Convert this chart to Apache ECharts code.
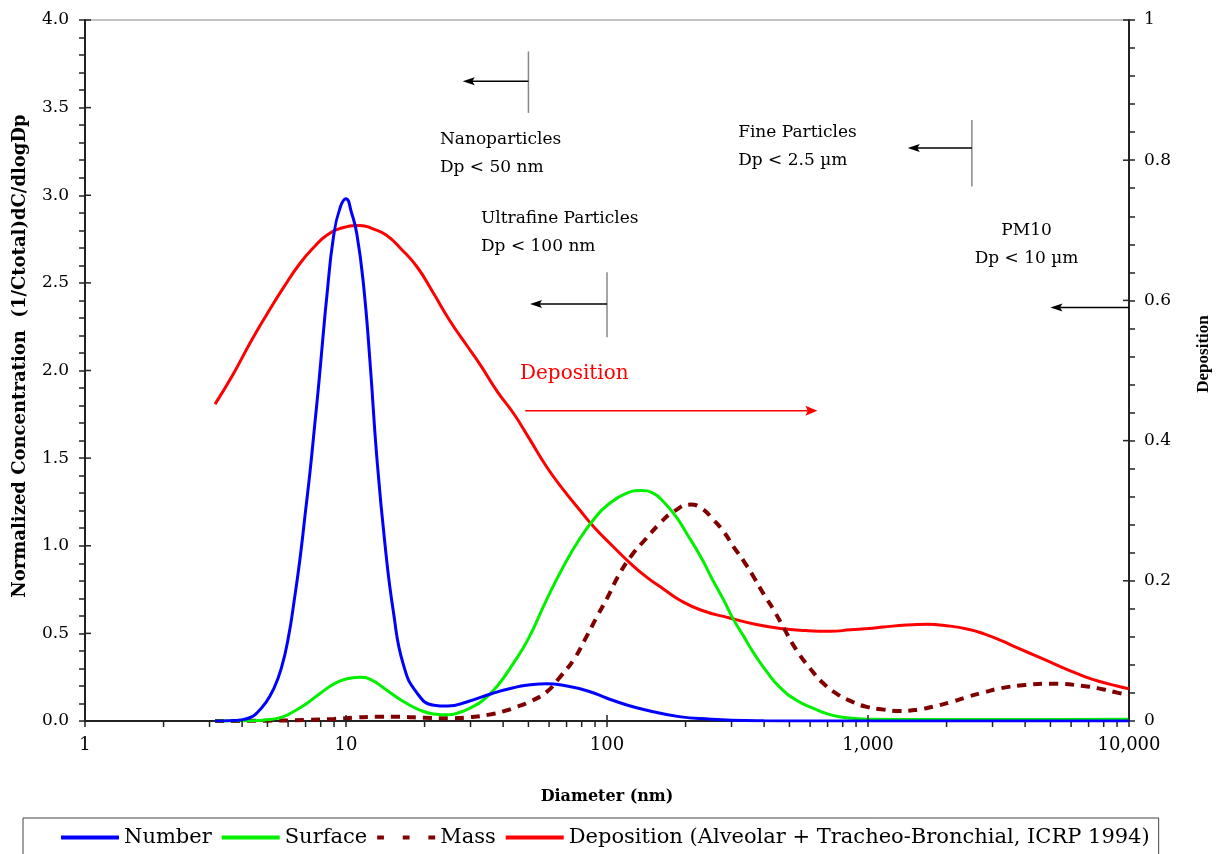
<!DOCTYPE html>
<html><head><meta charset="utf-8">
<script src="https://cdn.jsdelivr.net/npm/echarts@6/dist/echarts.min.js"></script>
<style>html,body{margin:0;padding:0;background:#fff}#c{width:1223px;height:854px}</style>
</head><body><div id="c"></div><script>
// ---------- DATA ----------
const xMajorTicks = [1, 10, 100, 1000, 10000];
const xMinorTicks = [2,3,4,5,6,7,8,9,20,30,40,50,60,70,80,90,200,300,400,500,600,700,800,900,2000,3000,4000,5000,6000,7000,8000,9000];
const leftMajorTicks = [0,0.5,1,1.5,2,2.5,3,3.5,4];
const rightMajorTicks = [0,0.2,0.4,0.6,0.8,1];

// [diameter nm, normalized concentration]
const numberData = [[3.15,0],[3.6,0.002],[3.93,0.006],[4.3,0.02],[4.55,0.045],[4.9,0.1],[5.27,0.18],[5.65,0.3],[6.02,0.48],[6.35,0.7],[6.67,0.93],[7.0,1.2],[7.29,1.43],[7.6,1.7],[7.86,1.92],[8.15,2.18],[8.44,2.42],[8.95,2.76],[9.5,2.93],[10.0,2.98],[10.5,2.9],[11.0,2.78],[11.67,2.49],[12.4,2.02],[13.1,1.52],[14.1,1.01],[15.2,0.62],[16.6,0.32],[18.7,0.16],[21.7,0.09],[24.5,0.085],[29.2,0.11],[36.8,0.16],[43.8,0.19],[50,0.205],[58.6,0.213],[70,0.2],[85,0.17],[100,0.13],[120,0.09],[141,0.063],[189,0.025],[250,0.01],[300,0.004],[400,0.001],[600,0],[1000,0],[3000,0],[10000,0]];
const surfaceData = [[3.15,0],[4.5,0.002],[5.2,0.01],[5.76,0.025],[6.4,0.06],[7.07,0.1],[8,0.16],[8.95,0.21],[10,0.24],[11.3,0.25],[12.5,0.235],[13.9,0.19],[15.5,0.14],[17.1,0.1],[19,0.065],[21.7,0.04],[24.5,0.035],[27.4,0.05],[30,0.075],[33.6,0.12],[38,0.2],[43.8,0.33],[50,0.47],[58.6,0.69],[68,0.88],[78.6,1.04],[90,1.16],[100,1.23],[119,1.3],[135,1.315],[150,1.3],[165,1.25],[185,1.16],[202,1.07],[230,0.93],[255,0.8],[280,0.69],[305,0.58],[335,0.48],[364,0.39],[410,0.28],[461,0.19],[530,0.12],[622,0.07],[720,0.035],[830,0.018],[1000,0.01],[2000,0.008],[5000,0.008],[10000,0.01]];
const massData = [[3.15,0],[5,0.002],[7,0.006],[9,0.012],[11,0.02],[13,0.024],[16,0.024],[20,0.018],[25,0.015],[30,0.022],[35,0.035],[40,0.055],[45,0.08],[50.6,0.11],[58.6,0.165],[66,0.25],[74.4,0.348],[82,0.46],[91.5,0.595],[100,0.7],[112,0.843],[125,0.95],[141,1.04],[160,1.13],[180,1.195],[209,1.235],[230,1.215],[255,1.15],[280,1.08],[305,0.995],[335,0.91],[364,0.824],[400,0.72],[435,0.634],[480,0.52],[532,0.405],[600,0.3],[674,0.215],[760,0.155],[855,0.115],[981,0.082],[1150,0.065],[1320,0.057],[1550,0.065],[1777,0.082],[2100,0.11],[2421,0.139],[2800,0.165],[3225,0.187],[4000,0.205],[5000,0.213],[6700,0.2],[8000,0.18],[9000,0.162],[10000,0.15]];
// [diameter nm, deposition fraction] (right axis)
const depositionData = [[3.15,0.452],[3.7,0.495],[4.3,0.54],[4.97,0.58],[5.8,0.62],[6.67,0.653],[7.5,0.675],[8.44,0.693],[9.8,0.704],[11.3,0.707],[12.7,0.702],[14.3,0.693],[16.3,0.673],[18.7,0.648],[21.5,0.612],[25,0.571],[29,0.536],[32.7,0.508],[38,0.47],[43.8,0.439],[50,0.405],[58.6,0.363],[68,0.33],[78.6,0.301],[90,0.275],[105.5,0.249],[122,0.226],[141,0.206],[165,0.188],[189,0.173],[230,0.158],[295,0.147],[370,0.138],[461,0.132],[580,0.129],[717,0.128],[855,0.13],[1000,0.132],[1143,0.134],[1400,0.137],[1688,0.138],[2000,0.136],[2421,0.131],[2800,0.124],[3225,0.115],[3700,0.105],[4335,0.094],[5000,0.084],[5833,0.073],[6800,0.063],[7790,0.056],[9000,0.05],[10000,0.046]];

const seriesNames = ['Number','Surface','Mass','Deposition (Alveolar + Tracheo-Bronchial, ICRP 1994)'];

// annotations (data coordinates: diameter, left-axis value)
const boundaryLines = [[50,3.47,3.82],[100,2.19,2.56],[2500,3.05,3.43]];
const sizeArrows = [[50,28,3.65],[100,50.7,2.38],[2500,1420,3.27],[10000,5000,2.36]];
const depositionArrow = [48.6, 640, 1.77];
const labels = [
  {text:'Nanoparticles\nDp < 50 nm', at:[22.9,3.40], align:'left'},
  {text:'Ultrafine Particles\nDp < 100 nm', at:[32.9,2.945], align:'left'},
  {text:'Fine Particles\nDp < 2.5 µm', at:[318,3.436], align:'left'},
  {text:'PM10\nDp < 10 µm', at:[4050,2.877], align:'center'}
];
const depositionLabel = {text:'Deposition', at:[46.4,2.04]};

// ---------- CHART ----------
const FONT = 'DejaVu Serif';
const AX = '#222';
const COLORS = {number:'#0000ff', surface:'#00f000', mass:'#800000', deposition:'#ff0000'};
const chart = echarts.init(document.getElementById('c'), null, {renderer:'canvas'});

function tickSeries(values, yIdx, kind) {
  return {
    type:'custom', xAxisIndex:0, yAxisIndex:yIdx, silent:true, clip:false, z:5,
    data: values.map(v => kind === 'x' || kind === 'xminor' ? [v, 0] : [kind === 'l' ? 1 : 10000, v]),
    renderItem: (params, api) => {
      const p = api.coord([api.value(0), api.value(1)]);
      let shape;
      if (kind === 'xminor') shape = {x1:p[0], y1:p[1], x2:p[0], y2:p[1]+6};
      else if (kind === 'x') shape = {x1:p[0], y1:p[1]-6, x2:p[0], y2:p[1]};
      else if (kind === 'l') shape = {x1:p[0], y1:p[1], x2:p[0]+6, y2:p[1]};
      else shape = {x1:p[0]-6, y1:p[1], x2:p[0], y2:p[1]};
      return {type:'line', shape, style:{stroke:AX, lineWidth:1.5}};
    }
  };
}

const lineCommon = {type:'line', showSymbol:false, symbol:'none', smooth:0.5, animation:false};
const solidIcon = 'path://M0,0H60V4H0Z';
const dotIcon = 'path://M0,0H7V4H0Z M26.5,0H33.5V4H26.5Z M53,0H60V4H53Z';

chart.setOption({
  animation:false,
  backgroundColor:'#fff',
  grid:{left:85, right:94, top:20, bottom:133, show:true, borderColor:'#888', borderWidth:1, backgroundColor:'transparent'},
  legend:{
    data:[
      {name:seriesNames[0], icon:solidIcon, itemStyle:{color:COLORS.number}},
      {name:seriesNames[1], icon:solidIcon, itemStyle:{color:COLORS.surface}},
      {name:seriesNames[2], icon:dotIcon, itemStyle:{color:COLORS.mass}},
      {name:seriesNames[3], icon:solidIcon, itemStyle:{color:COLORS.deposition}}
    ],
    left:23, top:818, itemWidth:58, itemHeight:4, itemGap:10,
    borderColor:'#444', borderWidth:1, padding:[9,9,30,38], borderRadius:0,
    textStyle:{fontFamily:FONT, fontSize:21, color:'#000'}
  },
  xAxis:{
    type:'log', logBase:10, min:1, max:10000,
    axisLine:{lineStyle:{color:AX, width:2}},
    axisTick:{show:true, length:6, lineStyle:{color:AX, width:1.5}},
    minorTick:{show:false}, splitLine:{show:false},
    axisLabel:{margin:15, fontFamily:FONT, fontSize:18, color:'#000', formatter:v => Math.round(v).toLocaleString('en-US')},
    name:'Diameter (nm)', nameLocation:'middle', nameGap:68,
    nameTextStyle:{fontFamily:FONT, fontWeight:'bold', fontSize:16, color:'#000'}
  },
  yAxis:[
    {type:'value', min:0, max:4, interval:0.5, position:'left',
     axisLine:{show:true, lineStyle:{color:AX, width:2}},
     axisTick:{show:true, length:6, lineStyle:{color:AX, width:1.5}},
     minorTick:{show:true, splitNumber:5, length:6, lineStyle:{color:AX, width:1.5}},
     splitLine:{show:false},
     axisLabel:{margin:16, fontFamily:FONT, fontSize:17, color:'#000', formatter:v => v.toFixed(1)}},
    {type:'value', min:0, max:1, interval:0.2, position:'right',
     axisLine:{show:true, lineStyle:{color:AX, width:2}},
     axisTick:{show:true, length:6, lineStyle:{color:AX, width:1.5}},
     minorTick:{show:true, splitNumber:5, length:6, lineStyle:{color:AX, width:1.5}},
     splitLine:{show:false},
     axisLabel:{margin:15, fontFamily:FONT, fontSize:17, color:'#000'}}
  ],
  series:[
    Object.assign({}, lineCommon, {name:seriesNames[3], yAxisIndex:1, data:depositionData, z:2,
      itemStyle:{color:COLORS.deposition}, lineStyle:{color:COLORS.deposition, width:3}}),
    Object.assign({}, lineCommon, {name:seriesNames[2], yAxisIndex:0, data:massData, z:3,
      itemStyle:{color:COLORS.mass}, lineStyle:{color:COLORS.mass, width:4, type:[9,7]}}),
    Object.assign({}, lineCommon, {name:seriesNames[1], yAxisIndex:0, data:surfaceData, z:4,
      itemStyle:{color:COLORS.surface}, lineStyle:{color:COLORS.surface, width:3}}),
    Object.assign({}, lineCommon, {name:seriesNames[0], yAxisIndex:0, data:numberData, z:5,
      itemStyle:{color:COLORS.number}, lineStyle:{color:COLORS.number, width:3}}),
    tickSeries(xMinorTicks, 0, 'xminor'),
    tickSeries(xMajorTicks, 0, 'x'),
    tickSeries(leftMajorTicks, 0, 'l'),
    tickSeries(rightMajorTicks, 1, 'r')
  ]
});

// ---------- ANNOTATIONS ----------
function px(x, y) { return chart.convertToPixel({xAxisIndex:0, yAxisIndex:0}, [x, y]); }
function arrow(x1, x2, y, color, width, headL, headW) {
  const a = px(x1, y), b = px(x2, y);
  const dir = b[0] < a[0] ? 1 : -1;
  return [
    {type:'line', shape:{x1:a[0], y1:a[1], x2:b[0] + dir*headL*0.6, y2:b[1]}, style:{stroke:color, lineWidth:width}, z:100},
    {type:'polygon', shape:{points:[[b[0], b[1]], [b[0]+dir*headL, b[1]-headW/2], [b[0]+dir*headL*0.8, b[1]], [b[0]+dir*headL, b[1]+headW/2]]}, style:{fill:color}, z:100}
  ];
}
const g = [];
boundaryLines.forEach(([x, y1, y2]) => {
  const a = px(x, y1), b = px(x, y2);
  g.push({type:'line', shape:{x1:a[0], y1:a[1], x2:b[0], y2:b[1]}, style:{stroke:'#888', lineWidth:1.5}, z:100});
});
sizeArrows.forEach(([x1, x2, y]) => g.push(...arrow(x1, x2, y, '#000', 1.5, 12, 8)));
g.push(...arrow(depositionArrow[0], depositionArrow[1], depositionArrow[2], COLORS.deposition, 1.5, 12, 10));
labels.forEach(l => {
  const p = px(l.at[0], l.at[1]);
  g.push({type:'text', x:p[0], y:p[1], z:100, style:{text:l.text, fontFamily:FONT, fontSize:17, lineHeight:28, fill:'#000', align:l.align, verticalAlign:'top'}});
});
{
  const p = px(depositionLabel.at[0], depositionLabel.at[1]);
  g.push({type:'text', x:p[0], y:p[1], z:100, style:{text:depositionLabel.text, fontFamily:FONT, fontSize:20, fill:COLORS.deposition, align:'left', verticalAlign:'top'}});
}
g.push({type:'text', x:20, y:356, rotation:Math.PI/2, z:100, style:{text:'Normalized Concentration  (1/Ctotal)dC/dlogDp', fontFamily:FONT, fontWeight:'bold', fontSize:18, fill:'#000', align:'center', verticalAlign:'middle'}});
g.push({type:'text', x:1204, y:354, rotation:Math.PI/2, z:100, style:{text:'Deposition', fontFamily:'Liberation Serif', fontWeight:'bold', fontSize:17, fill:'#000', align:'center', verticalAlign:'middle'}});
chart.setOption({graphic:g});
</script></body></html>
